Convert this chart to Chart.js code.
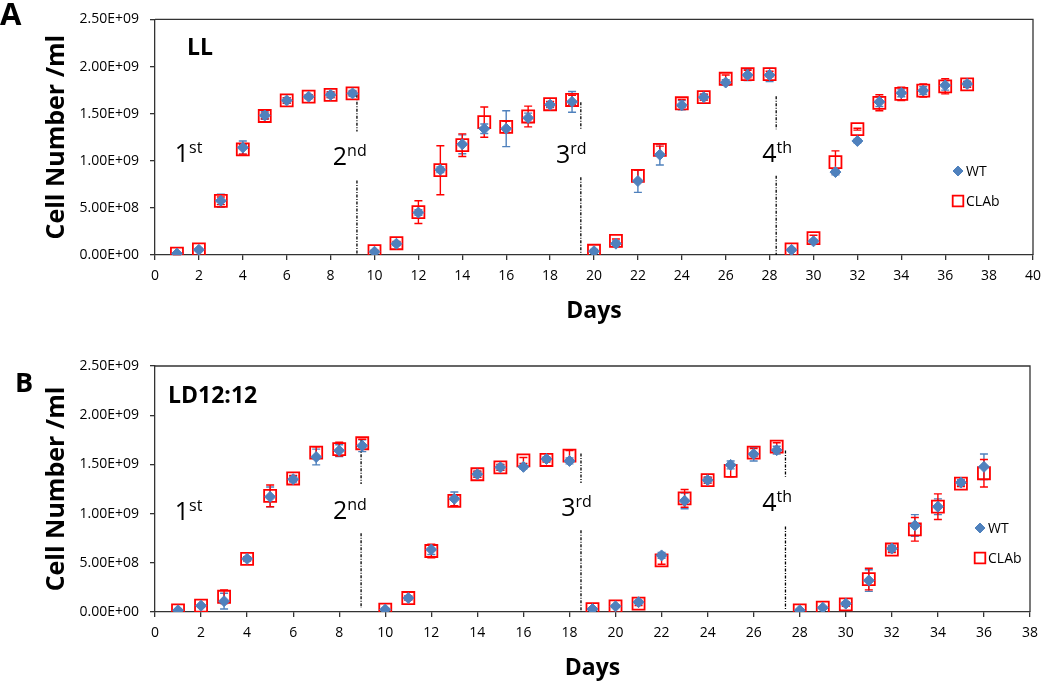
<!DOCTYPE html>
<html><head><meta charset="utf-8">
<script src="https://cdn.jsdelivr.net/npm/chart.js@4.4.0/dist/chart.umd.min.js"></script>
<style>
html,body{margin:0;padding:0;background:#fff;}
#wrap{position:relative;width:1050px;height:681px;overflow:hidden;background:#fff;}
canvas{position:absolute;left:0;}
</style></head><body>
<div id="wrap">
<canvas id="cA" width="1050" height="324" style="top:0;width:1050px;height:324px"></canvas>
<canvas id="cB" width="1050" height="351" style="top:330px;width:1050px;height:351px"></canvas>
</div>
<script>
// ---------- DATA ----------
const seriesNames = ['WT', 'CLAb'];
const yTickLabels = ['0.00E+00','5.00E+08','1.00E+09','1.50E+09','2.00E+09','2.50E+09'];
const cycleLabels = [['1','st'],['2','nd'],['3','rd'],['4','th']];

// Panel A (LL)
const panelTitleA = 'LL';
const daysA = [1,2,3,4,5,6,7,8,9,10,11,12,13,14,15,16,17,18,19,20,21,22,23,24,25,26,27,28,29,30,31,32,33,34,35,36,37];
const wtA = [1.5e7,5.5e7,5.75e8,1.14e9,1.48e9,1.64e9,1.68e9,1.70e9,1.715e9,3.5e7,1.2e8,4.5e8,9.05e8,1.175e9,1.34e9,1.34e9,1.455e9,1.595e9,1.625e9,4.0e7,1.2e8,7.85e8,1.065e9,1.59e9,1.675e9,1.83e9,1.91e9,1.91e9,5.5e7,1.45e8,8.8e8,1.21e9,1.625e9,1.72e9,1.745e9,1.80e9,1.815e9];
const clabA = [1.5e7,6.0e7,5.75e8,1.12e9,1.475e9,1.64e9,1.68e9,1.70e9,1.715e9,4.0e7,1.25e8,4.55e8,9.0e8,1.165e9,1.41e9,1.36e9,1.47e9,1.60e9,1.645e9,4.5e7,1.5e8,8.4e8,1.115e9,1.61e9,1.675e9,1.87e9,1.92e9,1.92e9,6.0e7,1.8e8,9.85e8,1.335e9,1.615e9,1.71e9,1.745e9,1.79e9,1.81e9];
const wtErrA = [1e7,1e7,7e7,7e7,4e7,3e7,2e7,3e7,3e7,1e7,2e7,3e7,3e7,1e8,5e7,1.9e8,5e7,3e7,1.1e8,2e7,3e7,1.2e8,1.1e8,5e7,3e7,3e7,6e7,7e7,1e7,2e7,3e7,2e7,5e7,4e7,4e7,5e7,3e7];
const clabErrA = [1e7,1e7,4e7,5e7,3e7,3e7,2e7,3e7,2e7,1e7,2e7,1.2e8,2.6e8,1.2e8,1.6e8,6e7,1.1e8,3e7,5e7,1e7,2e7,6e7,4e7,4e7,3e7,4e7,4e7,3e7,1e7,3e7,1.2e8,1e7,8.5e7,7e7,7e7,8e7,3e7];
const dividerDayA = [9.2, 19.4, 28.3];
const dividerUpperA = [[1.70e9,1.31e9],[1.62e9,1.335e9],[1.685e9,1.335e9]];
const dividerLowerA = [[7.9e8,0],[8.25e8,0],[8.42e8,0]];
const cycleDayA = [0.9, 8.1, 18.27, 27.66];
const cycleValA = [0.99e9, 0.96e9, 0.98e9, 0.99e9];

// Panel B (LD12:12)
const panelTitleB = 'LD12:12';
const daysB = [1,2,3,4,5,6,7,8,9,10,11,12,13,14,15,16,17,18,19,20,21,22,23,24,25,26,27,28,29,30,31,32,33,34,35,36];
const wtB = [1.7e7,6.4e7,1.1e8,5.4e8,1.17e9,1.35e9,1.575e9,1.64e9,1.69e9,2.5e7,1.42e8,6.35e8,1.15e9,1.40e9,1.47e9,1.475e9,1.555e9,1.535e9,3.0e7,5.8e7,1.0e8,5.75e8,1.13e9,1.34e9,1.495e9,1.605e9,1.645e9,1.7e7,4.4e7,8.5e7,3.2e8,6.45e8,8.8e8,1.07e9,1.315e9,1.475e9];
const clabB = [1.7e7,6.4e7,1.55e8,5.4e8,1.18e9,1.357e9,1.62e9,1.655e9,1.715e9,2.5e7,1.42e8,6.2e8,1.13e9,1.40e9,1.47e9,1.54e9,1.545e9,1.59e9,3.0e7,5.8e7,8.5e7,5.25e8,1.155e9,1.34e9,1.435e9,1.62e9,1.68e9,1.7e7,4.4e7,7.8e7,3.35e8,6.35e8,8.4e8,1.07e9,1.305e9,1.41e9];
const wtErrB = [1e7,1e7,8e7,2e7,1e8,3e7,8e7,6e7,6e7,1e7,2e7,5e7,7e7,3e7,3e7,2e7,2e7,3e7,1e7,1e7,2e7,3e7,8e7,3e7,4e7,7e7,4e7,1e7,1e7,2e7,1.1e8,3e7,1.1e8,8e7,3e7,1.3e8];
const clabErrB = [1e7,1e7,7e7,2e7,1.1e8,3e7,6e7,7e7,4e7,1e7,2e7,7e7,5e7,3e7,3e7,3e7,2e7,5e7,1e7,1e7,2e7,4e7,9e7,3e7,6e7,4e7,4e7,1e7,1e7,2e7,1.1e8,3e7,1.2e8,1.3e8,3e7,1.4e8];
const dividerDayB = [8.95, 18.5, 27.38];
const dividerUpperB = [[1.745e9,1.30e9],[1.61e9,1.31e9],[1.64e9,1.375e9]];
const dividerLowerB = [[8.0e8,4e7],[8.3e8,0],[8.7e8,1.7e7]];
const cycleDayB = [0.86, 7.73, 17.64, 26.37];
const cycleValB = [0.94e9, 0.95e9, 0.98e9, 1.03e9];

// ---------- STYLE ----------
const FONT = "'Open Sans', 'Liberation Sans', sans-serif";
const BLUE = '#4F81BD', RED = '#FF0000', AXIS = '#333333';

const errorBars = {
  id: 'errorBars',
  beforeDatasetsDraw(chart) {
    const {ctx} = chart, xs = chart.scales.x, ys = chart.scales.y;
    ctx.save();
    chart.data.datasets.forEach(ds => {
      if (!ds.errors) return;
      ctx.strokeStyle = ds.errorColor; ctx.lineWidth = 1.4;
      ds.data.forEach((p, j) => {
        const e = ds.errors[j];
        const x = xs.getPixelForValue(p.x);
        const yt = ys.getPixelForValue(p.y + e), yb = ys.getPixelForValue(Math.max(0, p.y - e));
        const c = 4;
        ctx.beginPath();
        ctx.moveTo(x, yt); ctx.lineTo(x, yb);
        ctx.moveTo(x - c, yt); ctx.lineTo(x + c, yt);
        ctx.moveTo(x - c, yb); ctx.lineTo(x + c, yb);
        ctx.stroke();
      });
    });
    ctx.restore();
  }
};

const decor = {
  id: 'decor',
  beforeDatasetsDraw(chart) {
    const {ctx, chartArea: a} = chart;
    ctx.save();
    ctx.strokeStyle = AXIS; ctx.lineWidth = 1.3;
    ctx.beginPath();
    ctx.moveTo(a.left, a.top); ctx.lineTo(a.right, a.top); ctx.lineTo(a.right, a.bottom);
    ctx.stroke();
    ctx.restore();
  },
  afterDraw(chart, args, o) {
    const {ctx} = chart, xs = chart.scales.x, ys = chart.scales.y;
    ctx.save();
    ctx.fillStyle = '#000';
    ctx.textBaseline = 'alphabetic';
    ctx.font = 'bold ' + o.letterSize + 'px ' + FONT;
    ctx.textAlign = 'left';
    ctx.fillText(o.letter, o.letterX, o.letterY);
    ctx.font = 'bold 23px ' + FONT;
    ctx.fillText(o.title, o.titleX, o.titleY);
    o.cycleDay.forEach((d, i) => {
      const x = xs.getPixelForValue(d), y = ys.getPixelForValue(o.cycleVal[i]);
      ctx.font = '25px ' + FONT;
      ctx.fillText(cycleLabels[i][0], x, y);
      const w = ctx.measureText(cycleLabels[i][0]).width;
      ctx.font = '16px ' + FONT;
      ctx.fillText(cycleLabels[i][1], x + w, y - 9);
    });
    ctx.font = '14px ' + FONT;
    ctx.textBaseline = 'middle';
    chart.data.datasets.filter(ds => ds.inLegend).forEach((ds, i) => {
      const y = o.legendY + i * 30;
      ctx.save();
      ctx.fillStyle = ds.backgroundColor; ctx.strokeStyle = ds.borderColor; ctx.lineWidth = ds.borderWidth;
      Chart.helpers.drawPoint(ctx, {pointStyle: ds.pointStyle, radius: ds.legendRadius, borderWidth: ds.borderWidth}, o.legendX, y);
      ctx.restore();
      ctx.fillStyle = '#000';
      ctx.fillText(ds.label, o.legendX + 8, y + 1);
    });
    ctx.restore();
  }
};

function dividerSets(days, upper, lower) {
  return days.map((d, i) => ({
    label: 'divider', showLine: true, pointRadius: 0, borderColor: '#000', borderWidth: 1.3,
    borderDash: [3, 1.5, 1, 1.5], spanGaps: false, order: 5, inLegend: false,
    data: [{x: d, y: upper[i][0]}, {x: d, y: upper[i][1]}, {x: d, y: null}, {x: d, y: lower[i][0]}, {x: d, y: lower[i][1]}]
  }));
}

function makeChart(id, o) {
  const toXY = (days, vals) => days.map((d, i) => ({x: d, y: vals[i]}));
  return new Chart(document.getElementById(id), {
    type: 'scatter',
    data: {
      datasets: [
        {label: seriesNames[0], data: toXY(o.days, o.wt), errors: o.wtErr, errorColor: BLUE,
         pointStyle: 'rectRot', pointRadius: 5.5, legendRadius: 5, backgroundColor: BLUE, borderColor: BLUE, borderWidth: 1, order: 1, inLegend: true},
        {label: seriesNames[1], data: toXY(o.days, o.clab), errors: o.clabErr, errorColor: RED,
         pointStyle: 'rect', pointRadius: 8.5, legendRadius: 7.5, backgroundColor: 'rgba(0,0,0,0)', borderColor: RED, borderWidth: 1.8, order: 2, inLegend: true},
        ...dividerSets(o.divDay, o.divUp, o.divLo)
      ]
    },
    options: {
      responsive: false, animation: false, devicePixelRatio: 1,
      layout: {padding: {left: 0, top: o.padTop, right: o.padRight, bottom: 0}},
      plugins: {legend: {display: false}, tooltip: {enabled: false}, decor: o.decor},
      scales: {
        x: {
          type: 'linear', min: 0, max: o.xMax,
          ticks: {stepSize: 2, padding: 8, color: '#000', font: {family: FONT, size: 14}, maxRotation: 0},
          grid: {display: true, drawOnChartArea: false, drawTicks: true, tickLength: 5, color: AXIS, lineWidth: 1.3},
          border: {display: true, color: AXIS, width: 1.3},
          title: {display: true, text: 'Days', color: '#000', font: {family: FONT, size: 23, weight: 'bold', lineHeight: 1}, padding: {top: 0, bottom: 1}},
          afterFit: s => { s.height = 69; }
        },
        y: {
          type: 'linear', min: 0, max: 2.5e9,
          ticks: {stepSize: 5e8, padding: 11, color: '#000', font: {family: FONT, size: 14},
                  callback: (v, i) => yTickLabels[i]},
          grid: {display: true, drawOnChartArea: false, drawTicks: true, tickLength: 5, color: AXIS, lineWidth: 1.3},
          border: {display: true, color: AXIS, width: 1.3},
          title: {display: true, text: 'Cell Number /ml', color: '#000', font: {family: FONT, size: 25, weight: 'bold'}, padding: {top: 42, bottom: 0}},
          afterFit: s => { s.width = 155; }
        }
      }
    },
    plugins: [errorBars, decor]
  });
}

function build() {
  makeChart('cA', {
    days: daysA, wt: wtA, clab: clabA, wtErr: wtErrA, clabErr: clabErrA,
    divDay: dividerDayA, divUp: dividerUpperA, divLo: dividerLowerA,
    xMax: 40, padTop: 10, padRight: 17,
    decor: {letter: 'A', letterSize: 31, letterX: 0, letterY: 25, title: panelTitleA, titleX: 187, titleY: 55,
            cycleDay: cycleDayA, cycleVal: cycleValA, legendX: 958, legendY: 171}
  });
  makeChart('cB', {
    days: daysB, wt: wtB, clab: clabB, wtErr: wtErrB, clabErr: clabErrB,
    divDay: dividerDayB, divUp: dividerUpperB, divLo: dividerLowerB,
    xMax: 38, padTop: 36, padRight: 20,
    decor: {letter: 'B', letterSize: 27, letterX: 15, letterY: 62, title: panelTitleB, titleX: 168, titleY: 73,
            cycleDay: cycleDayB, cycleVal: cycleValB, legendX: 980, legendY: 198}
  });
}
if (document.fonts && document.fonts.load) {
  Promise.all([document.fonts.load("14px 'Open Sans'"), document.fonts.load("bold 23px 'Open Sans'")]).then(build, build);
} else { build(); }
</script>
</body></html>
